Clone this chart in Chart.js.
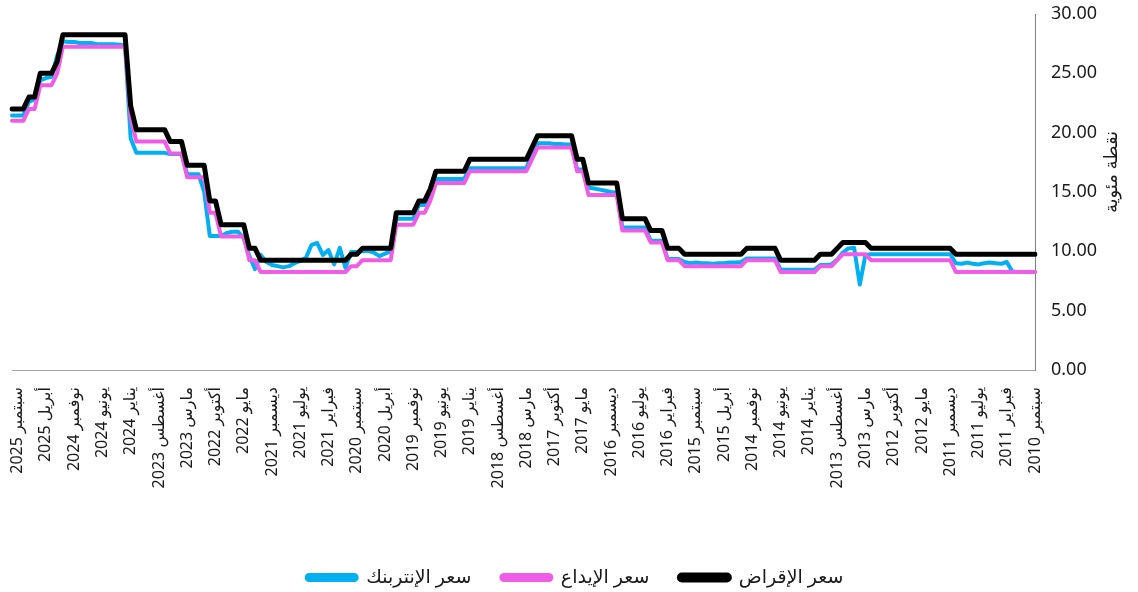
<!DOCTYPE html>
<html>
<head>
<meta charset="utf-8">
<script src="https://cdn.jsdelivr.net/npm/chart.js@4.4.1/dist/chart.umd.min.js"></script>
<style>
  html, body { margin: 0; padding: 0; background: #fff; }
  #wrap { width: 1138px; height: 592px; position: relative; }
</style>
</head>
<body>
<div id="wrap"><canvas id="ratesChart"></canvas></div>
<script>
// شهري: من سبتمبر 2010 (أول قيمة) حتى أكتوبر 2025 (آخر قيمة)
var monthNames = ["يناير", "فبراير", "مارس", "أبريل", "مايو", "يونيو", "يوليو", "أغسطس", "سبتمبر", "أكتوبر", "نوفمبر", "ديسمبر"];

var lendingRate = [
  9.75, 9.75, 9.75, 9.75, 9.75, 9.75, 9.75, 9.75, 9.75, 9.75, 9.75, 9.75, 9.75, 9.75, 9.75,
  10.25, 10.25, 10.25, 10.25, 10.25, 10.25, 10.25, 10.25, 10.25, 10.25, 10.25, 10.25, 10.25, 10.25, 10.25,
  10.75, 10.75, 10.75, 10.75, 10.75, 10.25, 9.75, 9.75, 9.75,
  9.25, 9.25, 9.25, 9.25, 9.25, 9.25, 9.25,
  10.25, 10.25, 10.25, 10.25, 10.25, 10.25,
  9.75, 9.75, 9.75, 9.75, 9.75, 9.75, 9.75, 9.75, 9.75, 9.75, 9.75,
  10.25, 10.25, 10.25, 11.75, 11.75, 11.75,
  12.75, 12.75, 12.75, 12.75, 12.75,
  15.75, 15.75, 15.75, 15.75, 15.75, 15.75,
  17.75, 17.75,
  19.75, 19.75, 19.75, 19.75, 19.75, 19.75, 19.75,
  18.75,
  17.75, 17.75, 17.75, 17.75, 17.75, 17.75, 17.75, 17.75, 17.75, 17.75, 17.75,
  16.75, 16.75, 16.75, 16.75, 16.75, 16.75,
  15.25, 14.25, 14.25,
  13.25, 13.25, 13.25, 13.25,
  10.25, 10.25, 10.25, 10.25, 10.25, 10.25,
  9.75, 9.75,
  9.25, 9.25, 9.25, 9.25, 9.25, 9.25, 9.25, 9.25, 9.25, 9.25, 9.25, 9.25, 9.25, 9.25, 9.25, 9.25,
  10.25, 10.25,
  12.25, 12.25, 12.25, 12.25, 12.25,
  14.25, 14.25,
  17.25, 17.25, 17.25, 17.25,
  19.25, 19.25, 19.25,
  20.25, 20.25, 20.25, 20.25, 20.25, 20.25,
  22.25,
  28.25, 28.25, 28.25, 28.25, 28.25, 28.25, 28.25, 28.25, 28.25, 28.25, 28.25, 28.25,
  26.00, 25.00, 25.00, 25.00, 23.00, 23.00, 22.00, 22.00, 22.00
];

var depositRate = [
  8.25, 8.25, 8.25, 8.25, 8.25, 8.25, 8.25, 8.25, 8.25, 8.25, 8.25, 8.25, 8.25, 8.25, 8.25,
  9.25, 9.25, 9.25, 9.25, 9.25, 9.25, 9.25, 9.25, 9.25, 9.25, 9.25, 9.25, 9.25, 9.25, 9.25,
  9.75, 9.75, 9.75, 9.75, 9.75, 9.25, 8.75, 8.75, 8.75,
  8.25, 8.25, 8.25, 8.25, 8.25, 8.25, 8.25,
  9.25, 9.25, 9.25, 9.25, 9.25, 9.25,
  8.75, 8.75, 8.75, 8.75, 8.75, 8.75, 8.75, 8.75, 8.75, 8.75, 8.75,
  9.25, 9.25, 9.25, 10.75, 10.75, 10.75,
  11.75, 11.75, 11.75, 11.75, 11.75,
  14.75, 14.75, 14.75, 14.75, 14.75, 14.75,
  16.75, 16.75,
  18.75, 18.75, 18.75, 18.75, 18.75, 18.75, 18.75,
  17.75,
  16.75, 16.75, 16.75, 16.75, 16.75, 16.75, 16.75, 16.75, 16.75, 16.75, 16.75,
  15.75, 15.75, 15.75, 15.75, 15.75, 15.75,
  14.25, 13.25, 13.25,
  12.25, 12.25, 12.25, 12.25,
  9.25, 9.25, 9.25, 9.25, 9.25, 9.25,
  8.75, 8.75,
  8.25, 8.25, 8.25, 8.25, 8.25, 8.25, 8.25, 8.25, 8.25, 8.25, 8.25, 8.25, 8.25, 8.25, 8.25, 8.25,
  9.25, 9.25,
  11.25, 11.25, 11.25, 11.25, 11.25,
  13.25, 13.25,
  16.25, 16.25, 16.25, 16.25,
  18.25, 18.25, 18.25,
  19.25, 19.25, 19.25, 19.25, 19.25, 19.25,
  21.25,
  27.25, 27.25, 27.25, 27.25, 27.25, 27.25, 27.25, 27.25, 27.25, 27.25, 27.25, 27.25,
  25.00, 24.00, 24.00, 24.00, 22.00, 22.00, 21.00, 21.00, 21.00
];

var interbankRate = [
  8.25, 8.25, 8.25, 8.25, 8.30, 9.10, 8.95, 9.00, 9.05, 9.00, 8.90, 8.95, 9.05, 8.95, 9.00,
  9.75, 9.75, 9.75, 9.75, 9.75, 9.75, 9.75, 9.75, 9.75, 9.75, 9.75, 9.75, 9.75, 9.75, 9.75,
  9.70, 7.20, 10.30, 10.25, 9.90, 9.30, 8.90, 8.85, 8.85,
  8.45, 8.45, 8.45, 8.45, 8.45, 8.45, 8.45,
  9.40, 9.40, 9.40, 9.40, 9.40, 9.40,
  9.10, 9.05, 9.05, 9.00, 9.00, 8.95, 9.00, 9.00, 9.05, 9.00, 9.10,
  9.35, 9.35, 9.35, 10.90, 10.90, 10.90,
  12.00, 12.00, 12.00, 12.00, 12.00,
  14.95, 15.00, 15.10, 15.20, 15.30, 15.35,
  16.90, 16.90,
  19.00, 19.00, 19.05, 19.05, 19.10, 19.10, 19.10,
  18.20,
  17.00, 17.00, 17.00, 17.00, 17.00, 17.00, 17.00, 17.00, 17.00, 17.00, 17.00,
  16.10, 16.10, 16.10, 16.10, 16.10, 16.10,
  14.80, 13.90, 13.90,
  12.75, 12.75, 12.75, 12.75,
  10.00, 9.80, 9.60, 9.90, 10.05, 10.00,
  9.95, 9.95,
  8.60, 10.30, 8.90, 10.10, 9.70, 10.70, 10.55, 9.45, 9.20, 9.00, 8.75, 8.65, 8.75, 8.85, 9.10, 9.70,
  8.50, 9.60,
  11.10, 11.65, 11.65, 11.55, 11.30,
  11.30, 11.30,
  15.00, 16.50, 16.50, 16.50,
  18.20, 18.20, 18.20,
  18.30, 18.30, 18.30, 18.30, 18.30, 18.30,
  19.50,
  27.35, 27.40, 27.45, 27.45, 27.45, 27.45, 27.55, 27.55, 27.55, 27.65, 27.65, 27.70,
  26.50, 24.70, 24.60, 24.40, 22.80, 22.60, 21.45, 21.45, 21.45
];

var yTicks = [0, 5, 10, 15, 20, 25, 30];
var yTitle = "نقطة مئوية";

var months = [];
var yr = 2010, mo = 8;
while (months.length < lendingRate.length) {
  months.push(monthNames[mo] + " " + yr);
  mo++;
  if (mo === 12) { mo = 0; yr++; }
}

var fontFamily = '"Noto Sans", "DejaVu Sans", sans-serif';
Chart.defaults.font.family = fontFamily;
Chart.defaults.color = '#1a1a1a';

// عنوان المحور الرأسي مقلوب (من الأسفل للأعلى) كما في الأصل
var axisTitlePlugin = {
  id: 'axisTitle',
  afterDraw: function(chart) {
    var ctx = chart.ctx;
    var area = chart.chartArea;
    ctx.save();
    ctx.translate(chart.width - 26, (area.top + area.bottom) / 2 - 20);
    ctx.rotate(-Math.PI / 2);
    ctx.font = '18px ' + fontFamily;
    ctx.fillStyle = '#1a1a1a';
    ctx.textAlign = 'center';
    ctx.textBaseline = 'middle';
    ctx.fillText(yTitle, 0, 0);
    ctx.restore();
  }
};

document.addEventListener("DOMContentLoaded", function() {
  var ctx = document.getElementById("ratesChart");

  new Chart(ctx, {
    type: 'line',
    data: {
      labels: months,
      datasets: [{
        label: "سعر الإنتربنك",
        data: interbankRate,
        borderColor: '#00B0F0',
        backgroundColor: '#00B0F0',
        borderWidth: 4,
        order: 3
      }, {
        label: "سعر الإيداع",
        data: depositRate,
        borderColor: '#F05CE6',
        backgroundColor: '#F05CE6',
        borderWidth: 4,
        order: 2
      }, {
        label: "سعر الإقراض",
        data: lendingRate,
        borderColor: '#000000',
        backgroundColor: '#000000',
        borderWidth: 5,
        order: 1
      }]
    },
    options: {
      responsive: true,
      maintainAspectRatio: false,
      animation: false,
      layout: { padding: { top: 14, left: 12, right: 0, bottom: -5 } },
      elements: {
        point: { radius: 0 },
        line: { tension: 0, borderJoinStyle: 'round', borderCapStyle: 'round' }
      },
      plugins: {
        legend: {
          position: 'bottom',
          labels: {
            boxWidth: 50,
            boxHeight: 5,
            useBorderRadius: true,
            borderRadius: 2.5,
            padding: 30,
            font: { size: 19 },
            color: '#1a1a1a',
            sort: function(a, b) { return a.datasetIndex - b.datasetIndex; }
          }
        },
        tooltip: { enabled: false }
      },
      scales: {
        x: {
          reverse: true,
          grid: { display: false },
          border: { display: true, color: '#a6a6a6', width: 1 },
          ticks: {
            autoSkip: false,
            maxRotation: 90,
            minRotation: 90,
            padding: 9,
            font: { size: 16 },
            color: '#1a1a1a',
            callback: function(value, index) {
              return index % 5 === 0 ? months[index] : null;
            }
          },
          afterFit: function(scale) { scale.height = 168; }
        },
        y: {
          position: 'right',
          min: yTicks[0],
          max: yTicks[yTicks.length - 1],
          afterBuildTicks: function(scale) {
            scale.ticks = yTicks.map(function(v) { return { value: v }; });
          },
          grid: { display: false, drawTicks: false },
          border: { display: true, color: '#7f7f7f', width: 1 },
          ticks: {
            padding: 16,
            font: { size: 18 },
            color: '#1a1a1a',
            callback: function(value) { return value.toFixed(2); }
          },
          afterFit: function(scale) {
            scale.width = 103;
            scale.paddingTop = 11;
            scale.paddingBottom = 11;
          }
        }
      }
    },
    plugins: [axisTitlePlugin]
  });
});
</script>
</body>
</html>
